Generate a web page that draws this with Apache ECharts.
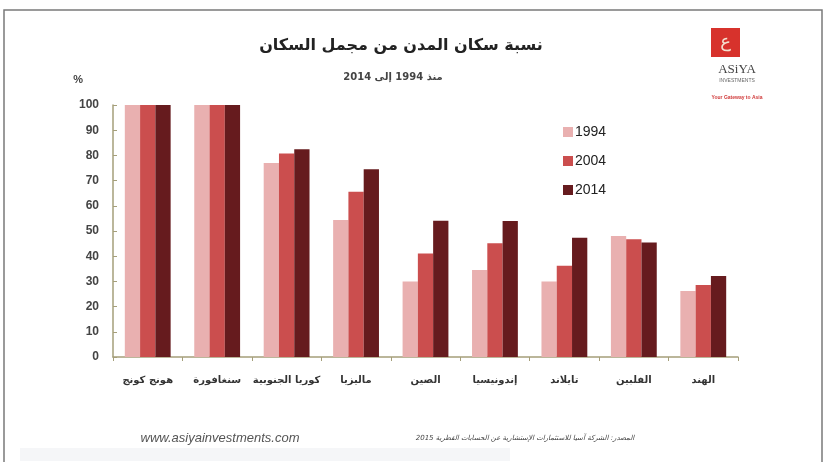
<!DOCTYPE html>
<html><head><meta charset="utf-8">
<script src="https://cdn.jsdelivr.net/npm/echarts@6/dist/echarts.min.js"></script>
<style>html,body{margin:0;padding:0;background:#fff}#c{width:827px;height:462px}</style>
</head><body><div id="c"></div>
<script>
const categories = ["هونج كونج","سنغافورة","كوريا الجنوبية","ماليزيا","الصين","إندونيسيا","تايلاند","الفلبين","الهند"];
const seriesNames = ["1994","2004","2014"];
const v1994 = [100,100,77,54.4,30,34.5,30,48,26.2];
const v2004 = [100,100,80.8,65.6,41.1,45.1,36.2,46.7,28.6];
const v2014 = [100,100,82.4,74.5,54.1,54,47.3,45.4,32.1];
const yTicks = [0,10,20,30,40,50,60,70,80,90,100];
const colors = ["#e9b0b0","#cb4e4e","#661b1e"];

const chart = echarts.init(document.getElementById('c'));
const axisCol = '#a59f7a';
chart.setOption({
  animation:false,
  backgroundColor:'#fff',
  title:[
    {text:'نسبة سكان المدن من مجمل السكان', left:396, top:33, textAlign:'center',
     textStyle:{fontFamily:'DejaVu Sans', fontWeight:'bold', fontSize:16, color:'#222'}},
    {text:'منذ 1994 إلى 2014', left:388, top:67, textAlign:'center',
     textStyle:{fontFamily:'DejaVu Sans', fontWeight:'bold', fontSize:10, color:'#444'}}
  ],
  legend:{orient:'vertical', left:558, top:120, itemWidth:10, itemHeight:10, itemGap:15,
    icon:'rect', data:seriesNames,
    textStyle:{fontFamily:'Liberation Sans', fontSize:14, color:'#222', padding:[0,0,0,-3]}},
  grid:{left:113, right:89, top:105, bottom:105, containLabel:false},
  xAxis:{type:'category', data:categories,
    axisLine:{lineStyle:{color:axisCol, width:1.5}},
    axisTick:{show:true, length:4, lineStyle:{color:axisCol}},
    axisLabel:{interval:0, margin:18, fontFamily:'DejaVu Sans', fontWeight:'bold', fontSize:10, color:'#333'}},
  yAxis:{type:'value', min:0, max:100, interval:10,
    name:'%', nameLocation:'end', nameGap:20, nameTextStyle:{fontFamily:'Liberation Sans', fontWeight:'bold', fontSize:11, color:'#444', align:'right', padding:[0,30,0,0]},
    axisLine:{show:true, lineStyle:{color:axisCol, width:1.5}},
    axisTick:{show:true, inside:true, length:4, lineStyle:{color:axisCol}},
    splitLine:{show:false},
    axisLabel:{margin:14, fontFamily:'Liberation Sans', fontWeight:'bold', fontSize:12, color:'#444',
      formatter:function(v){return yTicks.indexOf(v)>=0?String(v):'';}}},
  series:[
    {name:seriesNames[0], type:'bar', data:v1994, itemStyle:{color:colors[0]}, barGap:'0%', barCategoryGap:'34%'},
    {name:seriesNames[1], type:'bar', data:v2004, itemStyle:{color:colors[1]}, barGap:'0%', barCategoryGap:'34%'},
    {name:seriesNames[2], type:'bar', data:v2014, itemStyle:{color:colors[2]}, barGap:'0%', barCategoryGap:'34%'}
  ],
  graphic:[
    {type:'rect', shape:{x:4, y:10, width:818, height:470}, style:{fill:'none', stroke:'#7a7a7a', lineWidth:1.5}, silent:true},
    {type:'rect', shape:{x:20, y:448, width:490, height:13}, style:{fill:'#f5f6f8'}, silent:true},
    {type:'rect', shape:{x:711, y:28, width:29, height:29}, style:{fill:'#d7322c'}, silent:true},
    {type:'text', style:{text:'ع', x:725.5, y:42, fontSize:18, fontFamily:'DejaVu Sans', fill:'#f4e1d0', align:'center', verticalAlign:'middle'}, silent:true},
    {type:'text', style:{text:'ASiYA', x:737, y:70, fontSize:13, fontFamily:'Liberation Serif', fill:'#444', align:'center', verticalAlign:'middle'}, silent:true},
    {type:'text', style:{text:'INVESTMENTS', x:737, y:81, fontSize:5, fontFamily:'Liberation Sans', fill:'#666', align:'center', verticalAlign:'middle'}, silent:true},
    {type:'text', style:{text:'Your Gateway to Asia', x:737, y:98, fontSize:5, fontWeight:'bold', fontFamily:'Liberation Sans', fill:'#d03a3a', align:'center', verticalAlign:'middle'}, silent:true},
    {type:'text', style:{text:'www.asiyainvestments.com', x:220, y:438, fontSize:13, fontStyle:'italic', fontFamily:'Liberation Sans', fill:'#555', align:'center', verticalAlign:'middle'}, silent:true},
    {type:'text', style:{text:'المصدر: الشركة آسيا للاستثمارات الإستشارية عن الحسابات القطرية 2015', x:525, y:438, fontSize:7, fontStyle:'italic', fontFamily:'DejaVu Sans', fill:'#444', align:'center', verticalAlign:'middle'}, silent:true}
  ]
});
</script></body></html>
